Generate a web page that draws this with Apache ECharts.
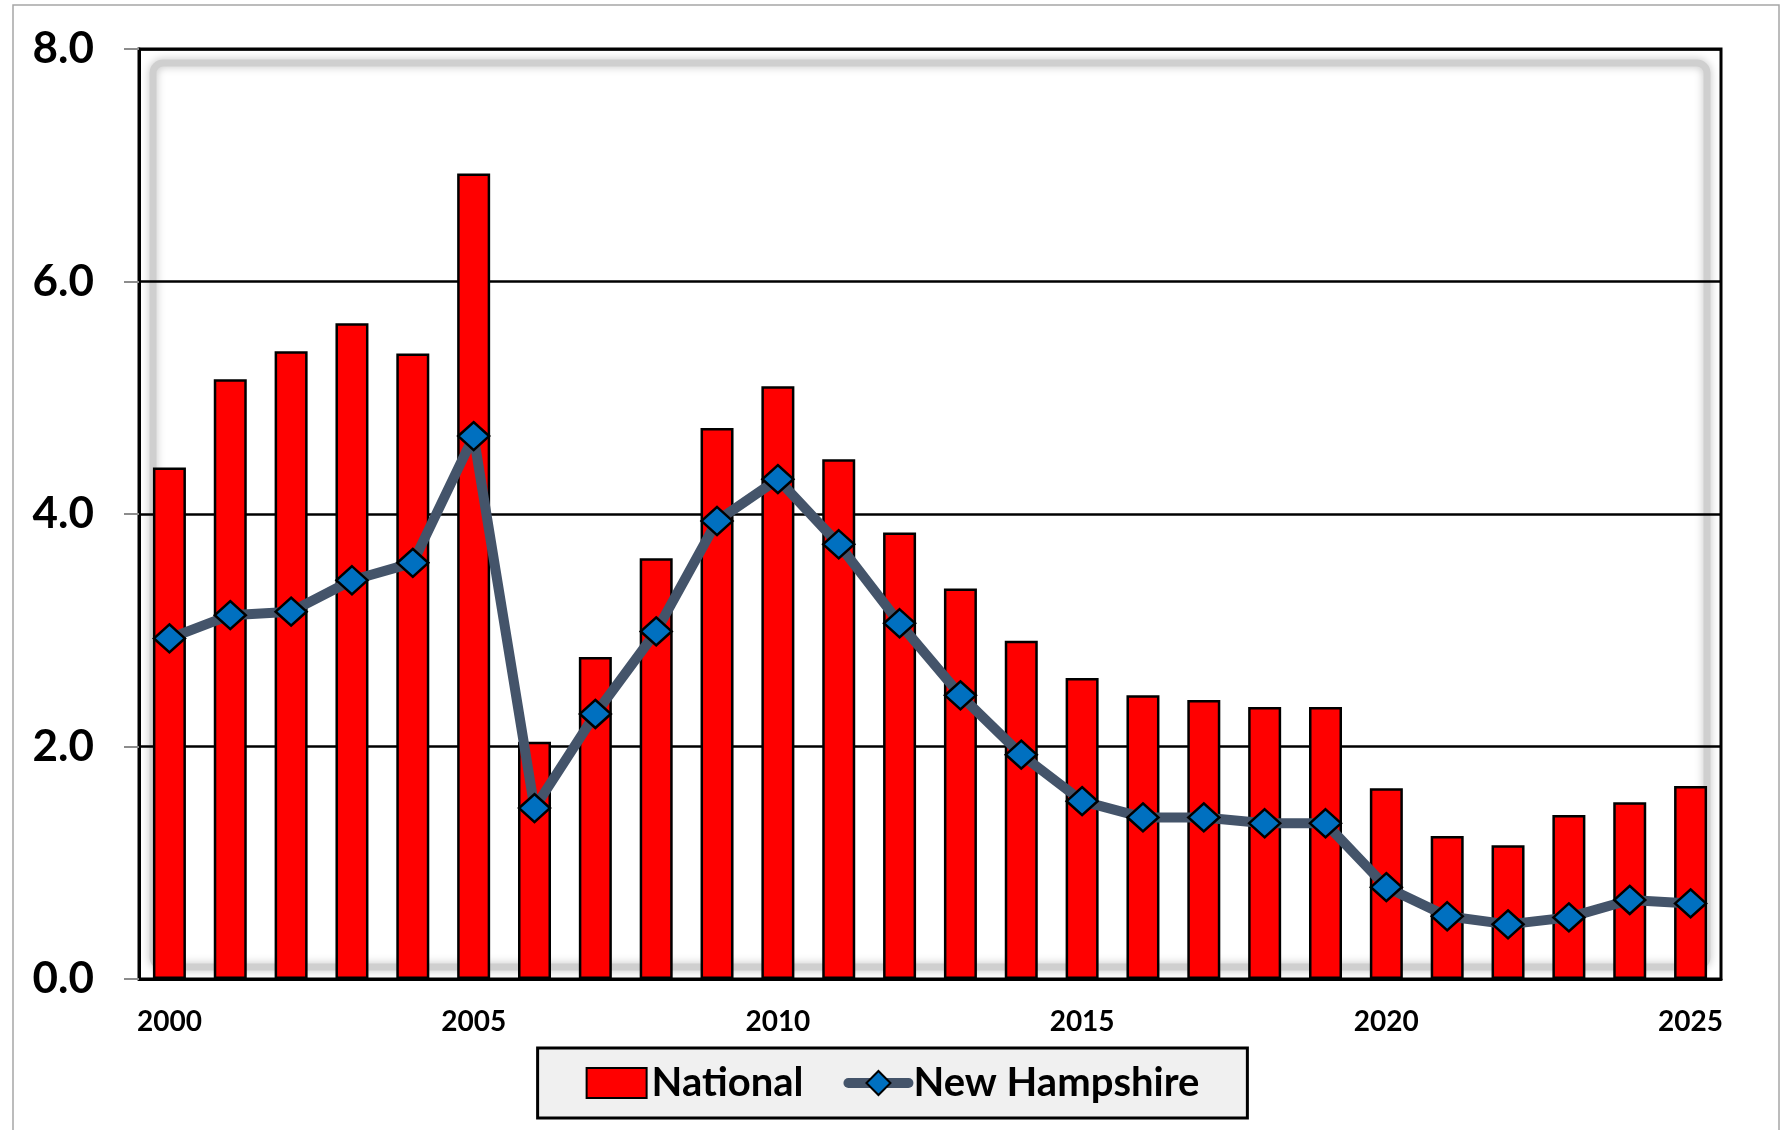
<!DOCTYPE html>
<html>
<head>
<meta charset="utf-8">
<script src="https://cdn.jsdelivr.net/npm/echarts@6/dist/echarts.min.js"></script>
<style>
  html, body { margin: 0; padding: 0; background: #fff; }
  #chart { width: 1785px; height: 1130px; }
</style>
</head>
<body>
<div id="chart"></div>
<script>
var years = ['2000', '2001', '2002', '2003', '2004', '2005', '2006', '2007', '2008', '2009',
  '2010', '2011', '2012', '2013', '2014', '2015', '2016', '2017', '2018', '2019',
  '2020', '2021', '2022', '2023', '2024', '2025']
var national = [4.40, 5.16, 5.40, 5.64, 5.38, 6.93, 2.04, 2.77, 3.62, 4.74,
  5.10, 4.47, 3.84, 3.36, 2.91, 2.59, 2.44, 2.40, 2.34, 2.34,
  1.64, 1.23, 1.15, 1.41, 1.52, 1.66]
var newHampshire = [2.93, 3.13, 3.16, 3.43, 3.58, 4.67, 1.47, 2.28, 2.99, 3.94,
  4.30, 3.74, 3.06, 2.44, 1.93, 1.53, 1.39, 1.39, 1.34, 1.34,
  0.79, 0.54, 0.47, 0.53, 0.68, 0.65]
var yTicks = [0, 2, 4, 6, 8]

var myChart = echarts.init(document.getElementById('chart'))
myChart.setOption({
  animation: false,
  backgroundColor: '#fff',
  textStyle: { fontFamily: 'Lato', fontWeight: 'bold', color: '#000' },
  graphic: {
    elements: [
      { // outer frame
        type: 'rect',
        z: -1,
        shape: { x: 13, y: 5, width: 1766, height: 1140 },
        style: { fill: 'none', stroke: '#a6a6a6', lineWidth: 1.5 }
      },
      { // soft inner shadow of the plot area
        type: 'rect',
        z: -1,
        shape: { x: 153, y: 63, width: 1554, height: 904, r: 10 },
        style: { fill: 'none', stroke: '#cfcfcf', lineWidth: 7, shadowBlur: 8, shadowColor: 'rgba(0,0,0,0.25)' }
      }
    ]
  },
  grid: {
    left: 139,
    right: 64,
    top: 49,
    bottom: 151,
    show: true,
    borderColor: '#000',
    borderWidth: 3
  },
  legend: {
    left: 'center',
    top: 1048,
    backgroundColor: '#f0f0f0',
    borderColor: '#000',
    borderWidth: 3,
    padding: [15, 48, 15, 48],
    itemGap: 40,
    itemWidth: 60,
    itemHeight: 30,
    textStyle: { fontFamily: 'Lato', fontWeight: 'bold', fontSize: 40, color: '#000' },
    data: [
      { name: 'National', icon: 'rect' },
      { name: 'New Hampshire', lineStyle: { width: 10, cap: 'round' } }
    ]
  },
  xAxis: {
    type: 'category',
    data: years,
    boundaryGap: true,
    axisLine: { lineStyle: { color: '#000', width: 3 } },
    axisTick: { interval: 0, length: 11, lineStyle: { color: '#8c8c8c', width: 2 } },
    axisLabel: {
      interval: 4,
      margin: 29,
      fontFamily: 'Lato',
      fontWeight: 'bold',
      fontSize: 28,
      color: '#000'
    }
  },
  yAxis: {
    type: 'value',
    min: yTicks[0],
    max: yTicks[yTicks.length - 1],
    interval: 2,
    axisLine: { show: true, lineStyle: { color: '#000', width: 3 } },
    axisTick: { show: true, length: 15, lineStyle: { color: '#8c8c8c', width: 2 } },
    splitLine: { lineStyle: { color: '#000', width: 2.5 } },
    axisLabel: {
      margin: 45,
      fontFamily: 'Lato',
      fontWeight: 'bold',
      fontSize: 44,
      color: '#000',
      formatter: function (v) { return v.toFixed(1) }
    }
  },
  series: [
    {
      name: 'National',
      type: 'bar',
      barWidth: 33,
      itemStyle: { color: '#ff0000', borderColor: '#000', borderWidth: 2.5 },
      data: national
    },
    {
      name: 'New Hampshire',
      type: 'line',
      z: 5,
      symbol: 'diamond',
      symbolSize: [31, 28],
      lineStyle: { color: '#44546a', width: 10 },
      itemStyle: { color: '#0070c0', borderColor: '#000', borderWidth: 2.5 },
      data: newHampshire
    }
  ]
})
</script>
</body>
</html>
